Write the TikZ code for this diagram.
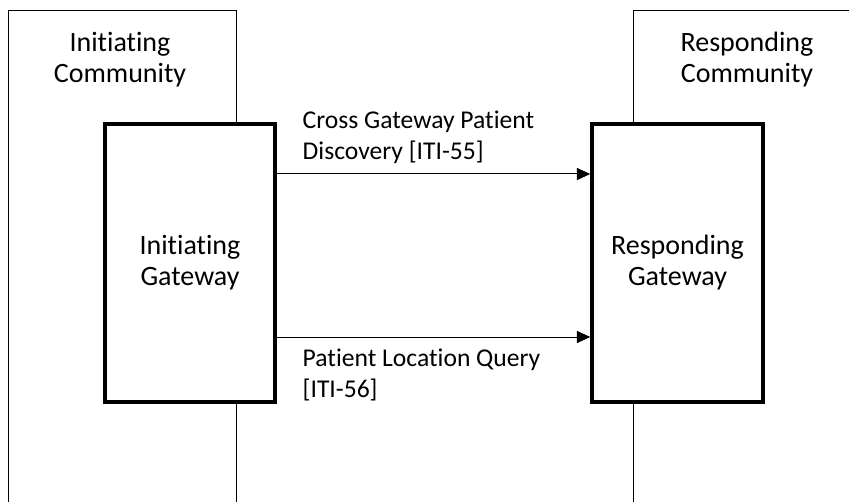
\documentclass[tikz,border=0pt]{standalone}
\usepackage{fontspec}
\setmainfont[Ligatures=NoCommon]{Carlito}
\usetikzlibrary{arrows.meta}

\tikzset{
  community/.style={draw, line width=0.75pt},
  gateway/.style={draw, line width=2.6pt, fill=white, align=center,
    minimum width=127.5pt, minimum height=208.5pt},
  flow/.style={-{Triangle[length=10pt,width=9pt]}, line width=0.75pt},
  txt/.style={font=\fontsize{21}{23.25}\selectfont},
  lbl/.style={font=\fontsize{19.2}{23.25}\selectfont, align=left, anchor=west}
}

\begin{document}
\begin{tikzpicture}[x=0.75pt, y=-0.75pt]
    \useasboundingbox (0,0) rectangle (849,502);
    \clip (0,0) rectangle (849,502);

    % Community frames (run off the page)
    \draw[community] (8,520) |- (236,11) -- (236,520);
    \draw[community] (633,520) |- (870,11);
    \node[txt, align=center] (icomm) at (120,59.5) {Initiating\\Community};
    \node[txt, align=center] (rcomm) at (747,59.5) {Responding\\Community};

    % Gateways
    \node[gateway, txt] (igw) at (190,263) {Initiating\\Gateway};
    \node[gateway, txt, minimum width=128.25pt] (rgw) at (677.5,263) {Responding\\Gateway};

    % Transactions
    \coordinate (upper) at (0,174);
    \coordinate (lower) at (0,337);
    \draw[flow] (igw.east |- upper) -- (rgw.west |- upper);
    \draw[flow] (igw.east |- lower) -- (rgw.west |- lower);
    \node[lbl] (xcpd) at (298,137.5) {Cross Gateway Patient\\Discovery [ITI-55]};
    \node[lbl] (plq) at (298,374.5) {Patient Location Query\\{[ITI-56]}};
\end{tikzpicture}
\end{document}
